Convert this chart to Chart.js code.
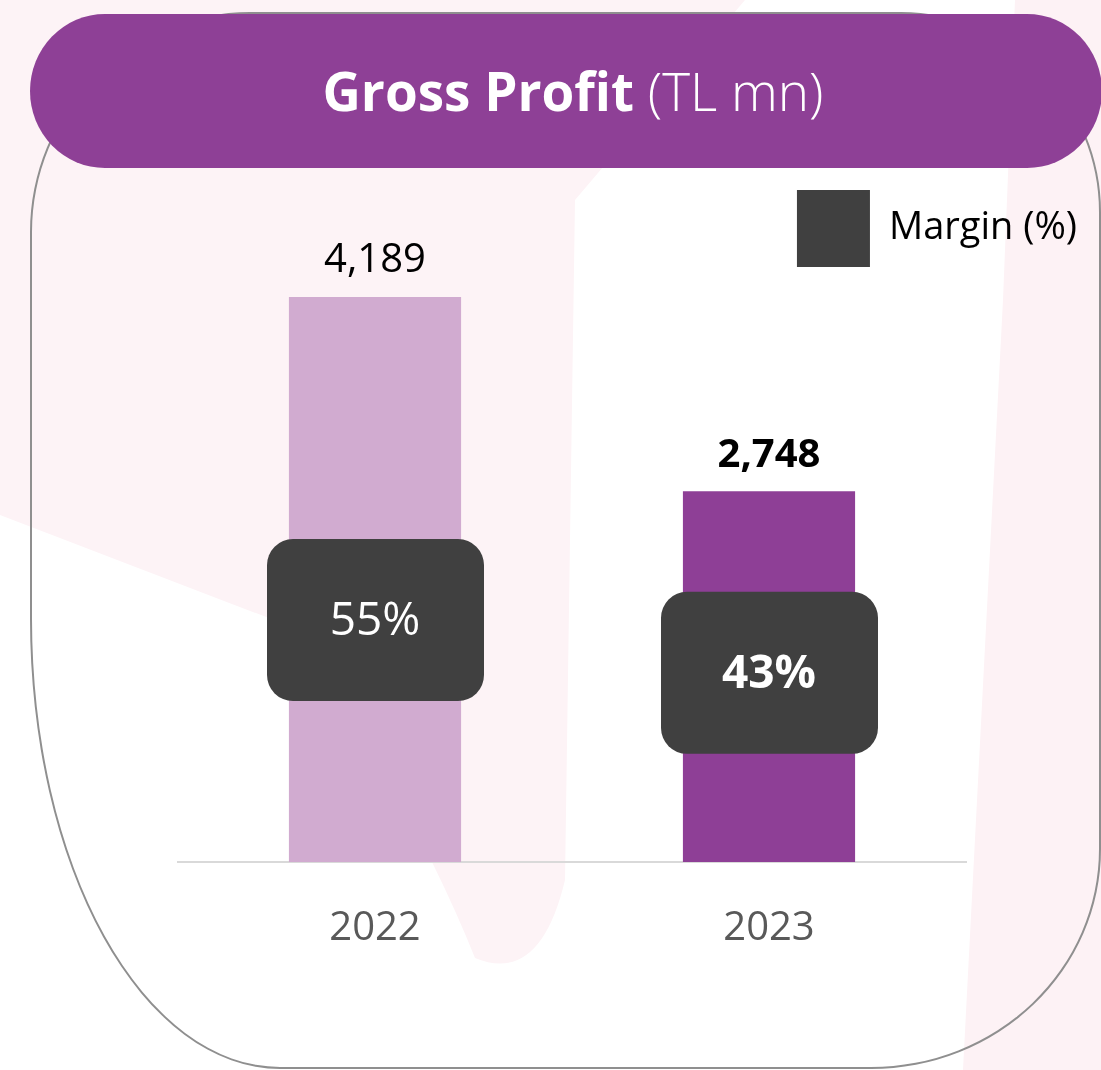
<!DOCTYPE html>
<html>
<head>
<meta charset="utf-8">
<script src="https://cdn.jsdelivr.net/npm/chart.js@4.4.1/dist/chart.umd.min.js"></script>
<style>
  html, body { margin: 0; padding: 0; }
  body {
    width: 1101px; height: 1070px; position: relative; overflow: hidden;
    background: #fff; font-family: "Open Sans", sans-serif;
  }
  #bg { position: absolute; left: 0; top: 0; }
  #frame {
    position: absolute; left: 30px; top: 12px; width: 1071px; height: 1057px;
    border: 2px solid #8f8f8f; box-sizing: border-box;
    border-radius: 220px 200px 230px 250px / 220px 200px 220px 450px;
  }
  #header {
    position: absolute; left: 30px; top: 14px; width: 1072px; height: 154px;
    background: #8e4096; border-radius: 75px / 77px;
    color: #fff; text-align: center; line-height: 154px;
    font-size: 53px; padding-left: 14px; box-sizing: border-box;
  }
  #header b { font-weight: 700; }
  #header span { font-weight: 300; }
  #wrap { position: absolute; left: 0; top: 180px; width: 1087px; height: 816px; }
</style>
</head>
<body>
<svg id="bg" width="1101" height="1070">
  <path d="M0 0 L745 0 L575 200 L565 880 Q540 985 475 958 Q420 820 300 630 L0 515 Z" fill="#fdf3f6"/>
  <path d="M1015 0 L1101 0 L1101 1070 L963 1070 L1003 300 Z" fill="#fdf2f5"/>
</svg>
<div id="frame"></div>
<div id="header"><b>Gross Profit</b> <span>(TL mn)</span></div>
<div id="wrap"><canvas id="gp"></canvas></div>
<script>
const years = ['2022', '2023'];
const grossProfit = [4189, 2748];
const marginPct = [55, 43];

const barColors = ['#d1abd0', '#8e3f96'];
const boxColor = '#404040';
const font = '"Open Sans", sans-serif';

// boxes for margin and labels above the bars
const labelsPlugin = {
    id: 'gpLabels',
    afterDatasetsDraw(chart) {
        const ctx = chart.ctx;
        const bars = chart.getDatasetMeta(0).data;
        const pts = chart.getDatasetMeta(1).data;
        ctx.save();
        ctx.textAlign = 'center';
        ctx.textBaseline = 'middle';
        bars.forEach((bar, i) => {
            const last = i === bars.length - 1;
            ctx.fillStyle = '#000';
            ctx.font = (last ? '700 ' : '400 ') + '40px ' + font;
            ctx.fillText(grossProfit[i].toLocaleString('en-US'), bar.x, bar.y - 36);
        });
        pts.forEach((p, i) => {
            const last = i === pts.length - 1;
            ctx.fillStyle = boxColor;
            ctx.beginPath();
            ctx.roundRect(p.x - 108, p.y - 81, 217, 162, 26);
            ctx.fill();
            ctx.fillStyle = '#fff';
            ctx.font = (last ? '700 ' : '400 ') + '46px ' + font;
            ctx.fillText(marginPct[i] + '%', p.x, p.y + 2);
        });
        ctx.restore();
    }
};

new Chart(document.getElementById('gp'), {
    data: {
        labels: years,
        datasets: [
            {
                type: 'bar',
                label: 'Gross Profit',
                data: grossProfit,
                backgroundColor: barColors,
                barPercentage: 0.437,
                categoryPercentage: 1.0,
                yAxisID: 'y'
            },
            {
                type: 'line',
                label: 'Margin (%)',
                data: marginPct,
                showLine: false,
                pointRadius: 0,
                backgroundColor: boxColor,
                borderColor: boxColor,
                borderWidth: 0,
                yAxisID: 'y2'
            }
        ]
    },
    options: {
        responsive: true,
        maintainAspectRatio: false,
        animation: false,
        layout: { padding: { left: 178, right: 0, top: 0, bottom: 0 } },
        scales: {
            x: {
                grid: { display: false, drawTicks: false },
                border: { display: true, color: '#d9d9d9', width: 2 },
                ticks: { color: '#595959', font: { family: font, size: 40 }, padding: 43 }
            },
            y: { display: false, min: 0, max: 4337 },
            // kept on screen only to reserve room right of the plot
            y2: {
                position: 'right', min: 0, max: 133,
                grid: { display: false },
                border: { display: false },
                ticks: { display: false },
                afterFit(scale) { scale.width = 121; }
            }
        },
        plugins: {
            legend: {
                position: 'top',
                align: 'end',
                labels: {
                    filter: item => item.datasetIndex === 1,
                    boxWidth: 73,
                    boxHeight: 77,
                    color: '#000',
                    font: { family: font, size: 38 }
                }
            },
            tooltip: { enabled: false }
        }
    },
    plugins: [labelsPlugin]
});
</script>
</body>
</html>
